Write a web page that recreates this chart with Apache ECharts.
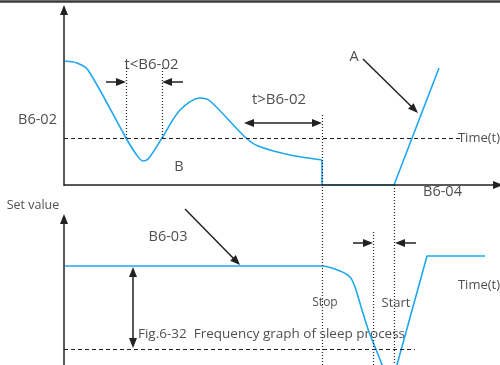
<!DOCTYPE html>
<html>
<head>
<meta charset="utf-8">
<script src="https://cdn.jsdelivr.net/npm/echarts@6/dist/echarts.min.js"></script>
<style>
  html, body { margin: 0; padding: 0; background: #fff; }
  #chart { width: 500px; height: 365px; }
</style>
</head>
<body>
<div id="chart"></div>
<script>
// diagram coordinates: x to the right, y downward (same size as the picture)
const freqCurve = [
  [65, 61], [77, 63], [88, 70], [126, 138], [136, 154], [143, 161],
  [149, 158], [162, 138], [180, 110], [200, 98], [210, 101], [245, 137],
  [258, 146], [290, 155], [322, 160]
]
const freqSleep = [[322, 160], [322, 185], [394, 185], [439, 68]]
const setCurve = [
  [65, 266], [322, 266], [340, 271], [350, 277], [355, 287], [362, 310],
  [369, 332], [377, 352], [385, 372]
]
const setRise = [[395, 372], [427, 256], [485, 256]]

// axes drawn as arrows: [from, to]
const axisLines = [
  [[64, 186], [64, 5]],
  [[64, 185], [503, 185]],
  [[64, 365], [64, 214]]
]
const frameLine = [[0, 1.5], [500, 1.5]]
const dashedLines = [
  [[64, 138], [462, 138]],
  [[64, 349], [415, 349]]
]
const dottedLines = [
  [[126, 68], [126, 138]],
  [[162, 68], [162, 138]],
  [[322, 115], [322, 365]],
  [[394, 185], [394, 365]],
  [[373, 232], [373, 365]]
]
// single-headed arrows (tip at second point)
const arrows = [
  [[106, 82], [126, 82]],
  [[183, 82], [162, 82]],
  [[363, 59], [418, 113]],
  [[185, 209], [240, 265]],
  [[353, 243], [373, 243]],
  [[416, 243], [395, 243]]
]
// double-headed arrows
const doubleArrows = [
  [[244, 123], [322, 123]],
  [[133, 267], [133, 348]]
]
const labels = [
  [151.5, 65, 't<B6-02'],
  [279, 100, 't>B6-02'],
  [37.5, 120, 'B6-02'],
  [179, 167, 'B'],
  [354, 57, 'A'],
  [479, 138, 'Time(t)'],
  [442.5, 192, 'B6-04'],
  [33, 205, 'Set value'],
  [168, 237, 'B6-03'],
  [325, 303, 'Stop'],
  [396, 303, 'Start'],
  [479, 285, 'Time(t)'],
  [271.5, 334, 'Fig.6-32  Frequency graph of sleep process']
]

const BLUE = '#1fa7ee'
const INK = '#222'
const HEAD = 10 // arrow head length
const fontSizes = {
  't<B6-02': 15,
  't>B6-02': 15,
  'B6-02': 14.5,
  B: 14.5,
  A: 14.5,
  'B6-04': 14.5,
  'B6-03': 14.5,
  'Set value': 12.5,
  Stop: 12,
  'Fig.6-32  Frequency graph of sleep process': 13.5
}

// markLine symbols sit centred on the end point, so pull the end back by half a head
function pullBack (from, to) {
  const dx = to[0] - from[0]
  const dy = to[1] - from[1]
  const len = Math.sqrt(dx * dx + dy * dy)
  const k = (HEAD / 2) / len
  return [to[0] - dx * k, to[1] - dy * k]
}
function seg (from, to, style) {
  return [{ coord: from, lineStyle: style }, { coord: to }]
}
function blueLine (data, smooth) {
  return {
    type: 'line',
    data: data,
    smooth: smooth,
    symbol: 'none',
    lineStyle: { color: BLUE, width: 1.6 }
  }
}

const chart = echarts.init(document.getElementById('chart'))
chart.setOption({
  animation: false,
  grid: { left: 0, right: 0, top: 0, bottom: 0 },
  xAxis: { type: 'value', min: 0, max: 500, show: false },
  yAxis: { type: 'value', min: 0, max: 365, inverse: true, show: false },
  series: [
    blueLine(freqCurve, 0.3),
    blueLine(freqSleep, false),
    blueLine(setCurve, 0.25),
    blueLine(setRise, false),
    {
      // plain lines: frame, dashed and dotted guides
      type: 'line',
      data: [],
      markLine: {
        silent: true,
        animation: false,
        symbol: ['none', 'none'],
        label: { show: false },
        data: [
          seg(frameLine[0], frameLine[1], { color: '#3a3a3a', width: 2.5, type: 'solid' }),
          ...dashedLines.map(l => seg(l[0], l[1], { color: INK, width: 1, type: [4, 3] })),
          ...dottedLines.map(l => seg(l[0], l[1], { color: INK, width: 1.2, type: [1, 2] }))
        ]
      }
    },
    {
      // axes and single arrows
      type: 'line',
      data: [],
      markLine: {
        silent: true,
        animation: false,
        symbol: ['none', 'triangle'],
        symbolSize: [8, HEAD],
        label: { show: false },
        lineStyle: { color: INK, width: 1.5, type: 'solid' },
        data: [
          ...axisLines.map(l => seg(l[0], pullBack(l[0], l[1]))),
          ...arrows.map(l => seg(l[0], pullBack(l[0], l[1])))
        ]
      }
    },
    {
      // double arrows
      type: 'line',
      data: [],
      markLine: {
        silent: true,
        animation: false,
        symbol: ['triangle', 'triangle'],
        symbolSize: [8, HEAD],
        label: { show: false },
        lineStyle: { color: INK, width: 1.5, type: 'solid' },
        data: doubleArrows.map(l => seg(pullBack(l[1], l[0]), pullBack(l[0], l[1])))
      }
    },
    {
      type: 'scatter',
      data: labels.map(l => ({
        value: l,
        label: { fontSize: fontSizes[l[2]] || 13 }
      })),
      symbolSize: 0,
      silent: true,
      label: {
        show: true,
        position: 'inside',
        formatter: p => p.value[2],
        color: INK,
        fontFamily: 'Open Sans',
        fontSize: 13
      }
    }
  ]
})
</script>
</body>
</html>
